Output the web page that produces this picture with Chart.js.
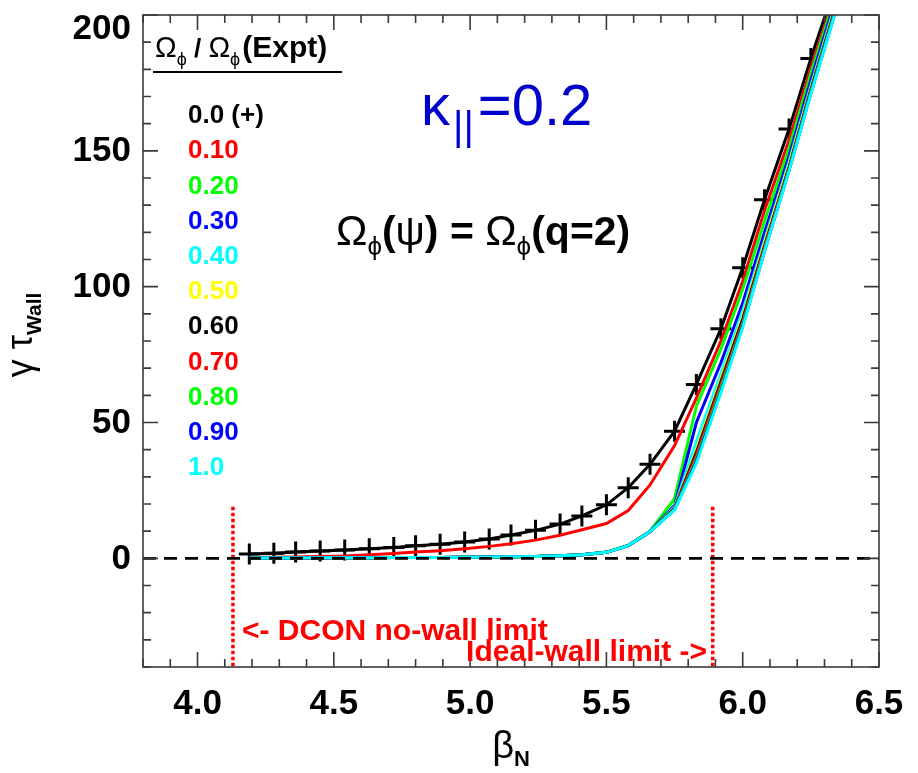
<!DOCTYPE html>
<html>
<head>
<meta charset="utf-8">
<script src="https://cdn.jsdelivr.net/npm/chart.js@4/dist/chart.umd.min.js"></script>
<style>
  html, body { margin: 0; padding: 0; background: #fff; }
</style>
</head>
<body>
<canvas id="growth" width="918" height="773"></canvas>
<script>
// beta_N scan points
const betaN = [4.19, 4.28, 4.36, 4.45, 4.54, 4.63, 4.72, 4.80, 4.89, 4.98, 5.07, 5.15, 5.24,
               5.33, 5.41, 5.50, 5.58, 5.66, 5.75, 5.83, 5.92, 6.00, 6.08, 6.17, 6.25, 6.34];

// gamma * tau_wall for each rotation fraction
const rot00 = [1.6, 1.9, 2.3, 2.7, 3.1, 3.5, 4.0, 4.6, 5.2, 6.0, 7.1, 8.6, 10.3, 12.6, 15.6, 19.7, 26.0, 34.6, 46.8, 64.0, 84.5, 107, 132, 158, 184, 211];
const rot01 = [0.3, 0.4, 0.5, 0.7, 0.9, 1.3, 1.8, 2.3, 2.8, 3.5, 4.4, 5.4, 6.7, 8.5, 10.5, 12.8, 17.6, 27.0, 41.5, 59, 80, 102, 128, 154, 180.5, 208];
const rot02 = [0.1, 0.1, 0.15, 0.2, 0.2, 0.25, 0.3, 0.3, 0.35, 0.4, 0.45, 0.55, 0.7, 0.95, 1.3, 2.3, 4.8, 10.0, 22.0, 56, 77, 99, 124, 151, 178.5, 207];
const rot03 = [0.1, 0.1, 0.15, 0.2, 0.2, 0.25, 0.3, 0.3, 0.35, 0.4, 0.45, 0.55, 0.7, 0.95, 1.3, 2.2, 4.7, 9.9, 19.5, 50, 72, 94, 120, 148, 176, 205.5];
const rot04 = [0.1, 0.1, 0.15, 0.2, 0.2, 0.25, 0.3, 0.3, 0.35, 0.4, 0.45, 0.55, 0.7, 0.95, 1.3, 2.2, 4.7, 9.8, 19.0, 43, 68, 91, 117, 146, 174, 204];
const rot05 = [0.1, 0.1, 0.15, 0.2, 0.2, 0.25, 0.3, 0.3, 0.35, 0.4, 0.45, 0.55, 0.7, 0.95, 1.3, 2.2, 4.7, 9.8, 18.6, 40, 66, 89, 116, 145, 173, 203];
const rot06 = [0.1, 0.1, 0.15, 0.2, 0.2, 0.25, 0.3, 0.3, 0.35, 0.4, 0.45, 0.55, 0.7, 0.95, 1.3, 2.2, 4.7, 9.8, 18.4, 39, 65, 88, 115, 144, 172.5, 202.5];
const rot07 = [0.1, 0.1, 0.15, 0.2, 0.2, 0.25, 0.3, 0.3, 0.35, 0.4, 0.45, 0.55, 0.7, 0.95, 1.3, 2.2, 4.7, 9.8, 18.2, 38, 64, 87, 114.5, 143.5, 172, 202];
const rot08 = [0.1, 0.1, 0.15, 0.2, 0.2, 0.25, 0.3, 0.3, 0.35, 0.4, 0.45, 0.55, 0.7, 0.95, 1.3, 2.2, 4.7, 9.8, 18.0, 36.5, 62.5, 86, 113.5, 143, 171.5, 201.5];
const rot09 = [0.1, 0.1, 0.15, 0.2, 0.2, 0.25, 0.3, 0.3, 0.35, 0.4, 0.45, 0.55, 0.7, 0.95, 1.3, 2.2, 4.7, 9.8, 17.9, 35.8, 61.5, 85.5, 113, 142.8, 171.2, 201.2];
const rot10 = [0.1, 0.1, 0.15, 0.2, 0.2, 0.25, 0.3, 0.3, 0.35, 0.4, 0.45, 0.55, 0.7, 0.95, 1.3, 2.2, 4.7, 9.8, 17.8, 35, 61, 85, 113, 142.6, 171, 201];

const fracLabels = ['0.0 (+)', '0.10', '0.20', '0.30', '0.40', '0.50', '0.60', '0.70', '0.80', '0.90', '1.0'];
const fracColors = ['#000000', '#ff0000', '#00ff00', '#0000ff', '#00ffff', '#ffff00',
                    '#000000', '#ff0000', '#00ff00', '#0000ff', '#00ffff'];
const curves = [rot00, rot01, rot02, rot03, rot04, rot05, rot06, rot07, rot08, rot09, rot10];

// no-wall / ideal-wall limits
const noWallLimit = 4.13;
const idealWallLimit = 5.89;
const limitTop = 19;

const xTicks = { min: 3.8, max: 6.5, step: 0.1 };
const yTicks = { min: -40, max: 200, step: 10 };

const FONT = '"Liberation Sans", Arial, sans-serif';

const datasets = curves.map((vals, i) => ({
  label: fracLabels[i],
  data: vals.map((v, k) => ({ x: betaN[k], y: v })),
  borderColor: fracColors[i],
  backgroundColor: fracColors[i],
  borderWidth: 3,
  pointRadius: i === 0 ? 10.5 : 0,
  pointStyle: 'cross',
  pointBorderWidth: 3,
  pointBorderColor: '#000',
  order: 20 - i,
  clip: 0
}));

// zero line and the two wall limits, drawn on top
datasets.push({
  data: [{ x: xTicks.min, y: 0 }, { x: xTicks.max, y: 0 }],
  borderColor: '#000', borderWidth: 2.6, borderDash: [13, 8], pointRadius: 0, order: 0, clip: 0
});
[noWallLimit, idealWallLimit].forEach(b => {
  datasets.push({
    data: [{ x: b, y: limitTop }, { x: b, y: yTicks.min }],
    borderColor: '#ff0000', borderWidth: 3.5, borderDash: [3.5, 2.5], pointRadius: 0, order: 0, clip: 0
  });
});

// text made of pieces with their own font and baseline shift
function drawRuns(ctx, x, y, parts, color) {
  parts.forEach(p => {
    ctx.font = p.font;
    ctx.fillStyle = p.color || color;
    ctx.fillText(p.t, x + (p.dx || 0), y + (p.dy || 0));
    x += ctx.measureText(p.t).width + (p.dx || 0);
  });
  return x;
}
function runsWidth(ctx, parts) {
  let w = 0;
  parts.forEach(p => { ctx.font = p.font; w += ctx.measureText(p.t).width + (p.dx || 0); });
  return w;
}

const framePlugin = {
  id: 'frameAndText',
  afterDraw(chart) {
    const { ctx, chartArea: a, scales: { x, y } } = chart;
    ctx.save();

    // box with inward ticks on all four sides
    ctx.strokeStyle = '#3a3a3a';
    ctx.lineWidth = 1.6;
    ctx.strokeRect(a.left, a.top, a.right - a.left, a.bottom - a.top);
    ctx.beginPath();
    x.ticks.forEach(t => {
      const px = x.getPixelForValue(t.value);
      const len = Math.round(t.value * 10) % 5 === 0 ? 15 : 8;
      ctx.moveTo(px, a.bottom); ctx.lineTo(px, a.bottom - len);
      ctx.moveTo(px, a.top); ctx.lineTo(px, a.top + len);
    });
    y.ticks.forEach(t => {
      const py = y.getPixelForValue(t.value);
      const len = Math.round(t.value) % 50 === 0 ? 15 : 8;
      ctx.moveTo(a.left, py); ctx.lineTo(a.left + len, py);
      ctx.moveTo(a.right, py); ctx.lineTo(a.right - len, py);
    });
    ctx.stroke();

    // y tick labels, kept inside the top edge
    ctx.fillStyle = '#000';
    ctx.font = 'bold 35px ' + FONT;
    ctx.textAlign = 'right';
    ctx.textBaseline = 'middle';
    y.ticks.forEach(t => {
      if (Math.round(t.value) % 50 !== 0) return;
      const py = Math.max(y.getPixelForValue(t.value), a.top + 13);
      ctx.fillText(String(t.value), a.left - 12, py + 1);
    });

    ctx.textBaseline = 'alphabetic';
    ctx.textAlign = 'left';

    // legend header
    const hx = drawRuns(ctx, 155, 57, [
      { t: 'Ω', font: '29px ' + FONT },
      { t: 'ϕ', font: '18px ' + FONT, dy: 8 },
      { t: ' / ', font: 'bold 26px ' + FONT },
      { t: 'Ω', font: '29px ' + FONT },
      { t: 'ϕ', font: '18px ' + FONT, dy: 8 },
      { t: '(Expt)', font: 'bold 30px ' + FONT, dx: 2 }
    ], '#000');
    ctx.strokeStyle = '#000';
    ctx.lineWidth = 2;
    ctx.beginPath();
    ctx.moveTo(153, 72); ctx.lineTo(Math.max(hx + 6, 342), 72);
    ctx.stroke();

    // legend entries
    ctx.textBaseline = 'middle';
    ctx.font = 'bold 26px ' + FONT;
    fracLabels.forEach((lab, i) => {
      ctx.fillStyle = fracColors[i];
      ctx.fillText(lab, 188, 116 + i * 35.2);
    });
    ctx.textBaseline = 'alphabetic';

    // kappa label
    drawRuns(ctx, 421, 125, [
      { t: 'κ', font: '58px ' + FONT },
      { t: '||', font: '40px ' + FONT, dy: 15, dx: 3 },
      { t: '=0.2', font: '58px ' + FONT, dx: 4 }
    ], '#0000cc');

    // rotation profile label
    drawRuns(ctx, 336, 245, [
      { t: 'Ω', font: '42px ' + FONT },
      { t: 'ϕ', font: '26px ' + FONT, dy: 10 },
      { t: '(', font: 'bold 41px ' + FONT },
      { t: 'ψ', font: '41px ' + FONT },
      { t: ') = ', font: 'bold 41px ' + FONT },
      { t: 'Ω', font: '42px ' + FONT },
      { t: 'ϕ', font: '26px ' + FONT, dy: 10 },
      { t: '(q=2)', font: 'bold 41px ' + FONT }
    ], '#000');

    // wall limit notes
    ctx.fillStyle = '#ff0000';
    ctx.font = 'bold 30px ' + FONT;
    ctx.fillText('<- DCON no-wall limit', 242, 640);
    ctx.textAlign = 'right';
    ctx.fillText('Ideal-wall limit ->', 707, 661);
    ctx.textAlign = 'left';

    // x title
    const xParts = [
      { t: 'β', font: '38px ' + FONT },
      { t: 'N', font: 'bold 22px ' + FONT, dy: 8 }
    ];
    const xw = runsWidth(ctx, xParts);
    drawRuns(ctx, (a.left + a.right) / 2 - xw / 2, 758, xParts, '#000');

    // y title
    const yParts = [
      { t: 'γ τ', font: '36px ' + FONT },
      { t: 'Wall', font: 'bold 21px ' + FONT, dy: 9 }
    ];
    const yw = runsWidth(ctx, yParts);
    ctx.translate(32, 335);
    ctx.rotate(-Math.PI / 2);
    drawRuns(ctx, -yw / 2, 0, yParts, '#000');

    ctx.restore();
  }
};

new Chart(document.getElementById('growth').getContext('2d'), {
  type: 'line',
  data: { datasets },
  options: {
    responsive: false,
    animation: false,
    layout: { padding: { top: 15, right: 39, left: 0, bottom: 0 } },
    plugins: { legend: { display: false }, tooltip: { enabled: false } },
    scales: {
      x: {
        type: 'linear', min: xTicks.min, max: xTicks.max,
        afterFit: s => { s.height = 106; s.paddingLeft = 0; s.paddingRight = 0; },
        grid: { display: false, drawTicks: false },
        border: { display: false },
        ticks: {
          stepSize: xTicks.step, autoSkip: false, maxRotation: 0, padding: 16,
          color: '#000', font: { family: FONT, size: 35, weight: 'bold' },
          callback: v => Math.round(v * 10) % 5 === 0 ? v.toFixed(1) : ''
        }
      },
      y: {
        type: 'linear', min: yTicks.min, max: yTicks.max,
        afterFit: s => { s.width = 143; s.paddingTop = 0; s.paddingBottom = 0; },
        grid: { display: false, drawTicks: false },
        border: { display: false },
        ticks: {
          stepSize: yTicks.step, autoSkip: false, padding: 12,
          color: 'rgba(0,0,0,0)', font: { family: FONT, size: 35, weight: 'bold' },
          callback: v => Math.round(v) % 50 === 0 ? String(v) : ''
        }
      }
    }
  },
  plugins: [framePlugin]
});
</script>
</body>
</html>
